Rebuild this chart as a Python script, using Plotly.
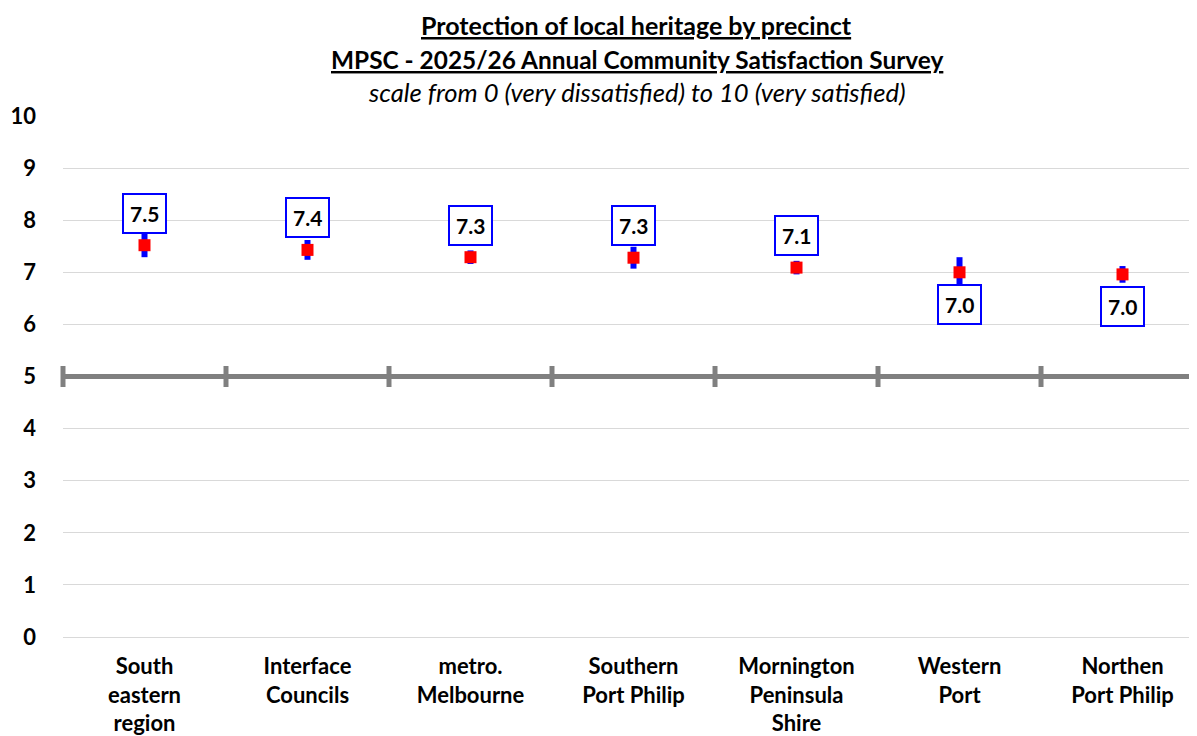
import plotly.graph_objects as go

# Mean satisfaction score per precinct, with error-bar half width
precincts = [
    "South<br>eastern<br>region",
    "Interface<br>Councils",
    "metro.<br>Melbourne",
    "Southern<br>Port Philip",
    "Mornington<br>Peninsula<br>Shire",
    "Western<br>Port",
    "Northen<br>Port Philip",
]
means  = [7.52, 7.43, 7.29, 7.28, 7.09, 7.00, 6.96]
errors = [0.23, 0.19, 0.13, 0.21, 0.13, 0.29, 0.16]
label_side = ["above", "above", "above", "above", "above", "below", "below"]

FONT = "Lato, 'Open Sans', sans-serif"
xs = list(range(len(precincts)))

fig = go.Figure()

fig.add_trace(go.Scatter(
    x=xs, y=means, mode="markers",
    marker=dict(symbol="square", size=12, color="#ff0000"),
    error_y=dict(type="data", array=errors, color="#0000ff", thickness=6, width=0),
    showlegend=False, hoverinfo="skip",
))

# ticks on the reference line at 5, at category boundaries
bounds = [i - 0.5 for i in range(len(precincts) + 1)]
fig.add_trace(go.Scatter(
    x=bounds, y=[5] * len(bounds), mode="markers",
    marker=dict(symbol="line-ns", size=15, line=dict(width=5, color="#808080")),
    showlegend=False, hoverinfo="skip", cliponaxis=False,
))

fig.add_shape(type="line", xref="paper", yref="y", x0=0, x1=1, y0=5, y1=5,
              line=dict(color="#808080", width=5), layer="above")

for x, m, side in zip(xs, means, label_side):
    fig.add_annotation(
        x=x, y=m, xref="x", yref="y", text=f"<b>{m:.1f}</b>", showarrow=False,
        yshift=32 if side == "above" else -32,
        font=dict(family=FONT, size=21, color="black"),
        bgcolor="white", bordercolor="#0000ff", borderwidth=2, borderpad=6,
    )

titles = [
    ("<b><u>Protection of local heritage by precinct</u></b>", 1.175, 25),
    ("<b><u>MPSC - 2025/26 Annual Community Satisfaction Survey</u></b>", 1.108, 24.4),
    ("<i>scale from 0 (very dissatisfied) to 10 (very satisfied)</i>", 1.046, 25.6),
]
for txt, y, sz in titles:
    fig.add_annotation(x=0.506, y=y, xref="paper", yref="paper", text=txt,
                       showarrow=False, xanchor="center", yanchor="middle",
                       font=dict(family=FONT, size=sz, color="black"))

# page body has an 8px margin, so the figure is sized to end at the window edge
fig.update_layout(
    width=1189, height=728,
    margin=dict(l=55, r=0, t=108, b=99),
    paper_bgcolor="white", plot_bgcolor="white",
    font=dict(family=FONT, color="black"),
    xaxis=dict(
        range=[-0.5, 6.457], tickvals=xs, ticktext=[f"<b>{p}</b>" for p in precincts],
        tickfont=dict(size=22, family=FONT), showgrid=False, zeroline=False,
        showline=False, ticks="", ticklabelstandoff=14, automargin=False,
    ),
    yaxis=dict(
        range=[0, 10], dtick=1, tickfont=dict(size=22, family=FONT),
        gridcolor="#d9d9d9", gridwidth=1, zeroline=True, zerolinecolor="#d9d9d9",
        zerolinewidth=1, showline=False, ticks="", ticklabelstandoff=26,
        tickformat="d", automargin=False,
    ),
)
fig.update_yaxes(tickprefix="<b>", ticksuffix="</b>")

fig.write_html("out.html")
